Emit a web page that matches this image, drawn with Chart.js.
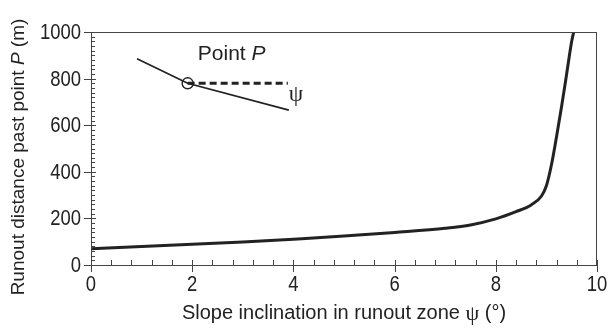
<!DOCTYPE html>
<html>
<head>
<meta charset="utf-8">
<script src="https://cdn.jsdelivr.net/npm/chart.js@4/dist/chart.umd.min.js"></script>
<style>
  html, body { margin: 0; padding: 0; background: #fff; }
  #wrap { width: 611px; height: 331px; }
</style>
</head>
<body>
<div id="wrap"><canvas id="mygraph"></canvas></div>
<script>
// main curve: runout distance vs slope inclination
var slope = [0, 1, 2, 3, 4, 5, 6, 7, 7.5, 8, 8.4, 8.7, 8.9, 9.0, 9.1, 9.2, 9.3, 9.4, 9.5, 9.55];
var runout = [70, 79, 89, 99, 111, 124, 140, 158, 172, 198, 229, 258, 295, 340, 430, 550, 680, 820, 960, 1010];

// little sketch of the slope with point P
var sketchX = [0.91, 1.91, 3.91];
var sketchY = [885, 780, 665];
var refX = [1.91, 3.89];
var refY = [780, 780];

var xTicks = [0, 2, 4, 6, 8, 10];
var yTicks = [0, 200, 400, 600, 800, 1000];

function pts(xs, ys) {
  return xs.map(function (x, i) { return { x: x, y: ys[i] }; });
}

var ink = "#222";
var axisCol = "#444";

// narrow-looking tick numbers: regular sans squeezed horizontally
function narrowText(c, txt, x, y, align) {
  var sq = 0.84;
  c.save();
  c.font = "22px 'Liberation Sans', Arial, sans-serif";
  c.textBaseline = "middle";
  c.textAlign = align;
  c.translate(x, y);
  c.scale(sq, 1);
  c.fillText(txt, 0, 0);
  c.restore();
}

var decor = {
  id: "decor",
  afterDraw: function (chart) {
    var c = chart.ctx, a = chart.chartArea;
    var xs = chart.scales.x, ys = chart.scales.y;
    c.save();
    c.strokeStyle = axisCol;
    c.lineWidth = 1;
    // frame
    c.strokeRect(a.left + 0.5, a.top + 0.5, a.right - a.left - 1, a.bottom - a.top);
    c.beginPath();
    // x ticks
    for (var v = 0; v <= 10.001; v += 0.4) {
      var px = Math.round(xs.getPixelForValue(v)) + 0.5;
      c.moveTo(px, a.bottom); c.lineTo(px, a.bottom - 5);
    }
    xTicks.forEach(function (v) {
      var px = Math.round(xs.getPixelForValue(v)) + 0.5;
      c.moveTo(px, a.bottom - 5); c.lineTo(px, a.bottom + 7);
    });
    // y ticks
    for (var w = 0; w <= 1000; w += 20) {
      var py = Math.round(ys.getPixelForValue(w)) + 0.5;
      c.moveTo(a.left, py); c.lineTo(a.left + 4, py);
    }
    yTicks.forEach(function (w) {
      var py = Math.round(ys.getPixelForValue(w)) + 0.5;
      c.moveTo(a.left - 7, py); c.lineTo(a.left + 5, py);
    });
    c.stroke();

    c.fillStyle = ink;
    // tick labels
    xTicks.forEach(function (v) {
      narrowText(c, String(v), xs.getPixelForValue(v), a.bottom + 20, "center");
    });
    yTicks.forEach(function (w) {
      narrowText(c, String(w), a.left - 10, ys.getPixelForValue(w) + 1, "right");
    });

    c.textBaseline = "middle";
    // x title
    var t1 = "Slope inclination in runout zone ", t2 = "\u03c8", t3 = " (\u00b0)";
    var sans = "20px 'Liberation Sans', Arial, sans-serif";
    var serif = "22px 'Liberation Serif', 'Times New Roman', serif";
    c.font = sans; var w1 = c.measureText(t1).width, w3 = c.measureText(t3).width;
    c.font = serif; var w2 = c.measureText(t2).width;
    var cx = (a.left + a.right) / 2, tx = cx - (w1 + w2 + w3) / 2, ty = 313;
    c.textAlign = "left";
    c.font = sans; c.fillText(t1, tx, ty);
    c.font = serif; c.fillText(t2, tx + w1, ty + 1);
    c.font = sans; c.fillText(t3, tx + w1 + w2, ty);

    // y title (rotated)
    var s1 = "Runout distance past point ", s2 = "P", s3 = " (m)";
    var ysans = "19px 'Liberation Sans', Arial, sans-serif";
    var ital = "italic 19px 'Liberation Sans', Arial, sans-serif";
    c.font = ysans; var v1 = c.measureText(s1).width, v3 = c.measureText(s3).width;
    c.font = ital; var v2 = c.measureText(s2).width;
    c.save();
    c.translate(19, 157);
    c.rotate(-Math.PI / 2);
    var sx = -(v1 + v2 + v3) / 2;
    c.font = ysans; c.fillText(s1, sx, 0);
    c.font = ital; c.fillText(s2, sx + v1, 0);
    c.font = ysans; c.fillText(s3, sx + v1 + v2, 0);
    c.restore();

    // sketch labels
    var lx = xs.getPixelForValue(2.78), ly = ys.getPixelForValue(903);
    var p1 = "Point ", p2 = "P";
    var f1 = "21px 'Liberation Sans', Arial, sans-serif";
    var f2 = "italic 21px 'Liberation Sans', Arial, sans-serif";
    c.font = f1; var q1 = c.measureText(p1).width;
    c.font = f2; var q2 = c.measureText(p2).width;
    var qx = lx - (q1 + q2) / 2;
    c.font = f1; c.fillText(p1, qx, ly);
    c.font = f2; c.fillText(p2, qx + q1, ly);
    c.font = "23px 'Liberation Serif', 'Times New Roman', serif";
    c.textAlign = "center";
    c.fillText("\u03c8", xs.getPixelForValue(4.05), ys.getPixelForValue(728));
    c.restore();
  }
};

var ctx = document.getElementById("mygraph");

var mygraph = new Chart(ctx, {
  type: "scatter",
  data: {
    datasets: [
      {
        data: pts(slope, runout),
        showLine: true,
        borderColor: ink,
        borderWidth: 3,
        pointRadius: 0,
        cubicInterpolationMode: "monotone",
        clip: { left: 0, right: 0, top: 0, bottom: 0 }
      },
      {
        data: pts(sketchX, sketchY),
        showLine: true,
        borderColor: ink,
        borderWidth: 1.8,
        pointRadius: 0
      },
      {
        data: pts(refX, refY),
        showLine: true,
        borderColor: ink,
        borderWidth: 2.8,
        borderDash: [7, 4],
        pointRadius: 0
      },
      {
        data: [{ x: sketchX[1], y: sketchY[1] }],
        pointRadius: 5.5,
        pointBackgroundColor: "#fff",
        pointBorderColor: ink,
        pointBorderWidth: 1.4
      }
    ]
  },
  options: {
    responsive: true,
    maintainAspectRatio: false,
    animation: false,
    layout: { padding: { left: 0, right: 14, top: 32, bottom: 0 } },
    plugins: { legend: { display: false }, tooltip: { enabled: false } },
    scales: {
      x: {
        type: "linear",
        min: 0,
        max: 10,
        afterFit: function (s) { s.height = 66; },
        afterBuildTicks: function (s) { s.ticks = xTicks.map(function (v) { return { value: v }; }); },
        grid: { display: false },
        border: { display: false },
        ticks: { display: false }
      },
      y: {
        type: "linear",
        min: 0,
        max: 1000,
        afterFit: function (s) { s.width = 91; },
        afterBuildTicks: function (s) { s.ticks = yTicks.map(function (v) { return { value: v }; }); },
        grid: { display: false },
        border: { display: false },
        ticks: { display: false }
      }
    }
  },
  plugins: [decor]
});
</script>
</body>
</html>
